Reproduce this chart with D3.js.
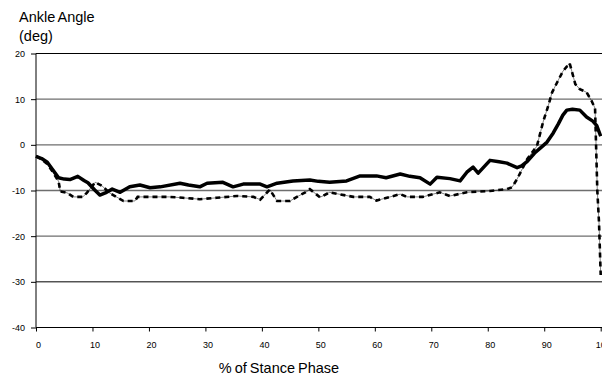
<!DOCTYPE html>
<html><head><meta charset="utf-8">
<script src="https://cdn.jsdelivr.net/npm/d3@7"></script>
<style>body{margin:0;background:#fff}svg{display:block;font-family:Arial,"Liberation Sans",sans-serif}</style>
</head><body><svg id="c" width="602" height="376"></svg>
<script>
const xTicks = [0,10,20,30,40,50,60,70,80,90,100];
const yTicks = [20,10,0,-10,-20,-30,-40];
const solidX = [0,1,2,3,4,5,6,7.4,8.5,9.2,10.4,11.3,12.5,13.5,14.9,16.6,18.4,20.2,22,25.5,27,29,30.3,33.1,34.9,36.7,39.7,40.9,42.7,45.5,48.5,50,52,55,57.4,60.3,62,64.5,66.2,68,69.8,71,73.3,75.1,76.3,77.4,78.3,80.4,82,83.4,85.2,86,87,88.3,89.5,90.5,91.6,92.5,93.3,94,95,96.3,97.5,98.6,99.3,100];
const solidY = [-2.5,-3,-3.8,-5.5,-7.2,-7.5,-7.6,-6.9,-7.8,-8.3,-9.9,-11,-10.4,-9.7,-10.4,-9.2,-8.8,-9.4,-9.2,-8.4,-8.8,-9.2,-8.4,-8.2,-9.2,-8.6,-8.6,-9.2,-8.4,-7.9,-7.7,-8.0,-8.2,-7.9,-6.8,-6.8,-7.2,-6.4,-6.9,-7.2,-8.6,-7.1,-7.4,-7.9,-6.0,-4.9,-6.2,-3.4,-3.7,-4.0,-5.0,-4.6,-3.6,-1.8,-0.5,0.6,2.6,4.6,6.5,7.6,7.8,7.6,6.1,5.2,4.2,1.9];
const dashX = [0,1,2,3,4,4.3,5.5,6.6,8.3,9.0,10.5,11.7,13,15.5,17.5,18,23.7,26,29,32,35.6,38.5,39.7,41.4,42.7,45,46.2,48,48.5,50.3,52,56.2,59.1,60.3,62.7,64.5,65.7,68.5,71.5,73.3,76.3,80.4,83.4,84.3,85.2,86.1,87,88.7,89.8,90.7,91.4,92.3,93.3,94.5,95.5,96.3,97.5,98.4,99.0,99.4,99.7,100];
const dashY = [-2.5,-3.2,-4.2,-6,-8,-10.2,-10.5,-11.4,-11.4,-10.5,-8.2,-9,-10.5,-12.3,-12.3,-11.4,-11.4,-11.6,-11.9,-11.6,-11.2,-11.4,-12,-9.8,-12.3,-12.3,-11.4,-10.2,-9.7,-11.5,-10.4,-11.4,-11.4,-12.2,-11.4,-10.8,-11.4,-11.4,-10.4,-11.2,-10.4,-10.1,-9.7,-9.3,-7.5,-5.3,-3.1,-0.3,5,8.5,11.5,13.7,16.1,17.9,13.3,12.2,11.5,9.6,8,-10,-17,-28.5];

const svg = d3.select("#c");
const x = d3.scaleLinear().domain([0,100]).range([36,600.7]);
const y = d3.scaleLinear().domain([-40,20]).range([327.5,53.5]);

// gridlines
svg.append("g").selectAll("line").data(yTicks.filter(d=>d>-40)).join("line")
  .attr("x1",36).attr("x2",602).attr("y1",d=>y(d)).attr("y2",d=>y(d))
  .attr("stroke",d=>(d===20||d===-30)?"#000":"#6e6e6e")
  .attr("stroke-width",d=>(d===20||d===-30)?1:1.4);

// y axis
const ya = svg.append("g").attr("transform","translate(36,0)")
  .call(d3.axisLeft(y).tickValues(yTicks).tickSize(5).tickPadding(6).tickFormat(d=>String(d)));
ya.select(".domain").attr("d","M0,53.5V327.5").attr("stroke","#000");
ya.selectAll("text").attr("font-size","9px").attr("fill","#000").attr("font-family",null);

// x axis
const xa = svg.append("g").attr("transform","translate(0,327.5)")
  .call(d3.axisBottom(x).tickValues(xTicks).tickSize(4).tickPadding(10).tickFormat(d=>String(d)));
xa.select(".domain").attr("d","M36,0H602").attr("stroke","#000");
xa.selectAll("text").attr("font-size","9px").attr("fill","#000").attr("dx","2").attr("font-family",null);

const line = d3.line().x(d=>x(d[0])).y(d=>y(d[1]));
const dashData = dashX.map((v,i)=>[v,dashY[i]]);
const solidData = solidX.map((v,i)=>[v,solidY[i]]);

svg.append("path").datum(dashData).attr("d",line).attr("fill","none")
  .attr("stroke","#000").attr("stroke-width",0.7).attr("opacity",0.7);
svg.append("path").datum(dashData).attr("d",line).attr("fill","none")
  .attr("stroke","#000").attr("stroke-width",2.6).attr("stroke-dasharray","5,4");
svg.append("path").datum(solidData).attr("d",line).attr("fill","none")
  .attr("stroke","#000").attr("stroke-width",3.5).attr("stroke-linejoin","round");

// titles
svg.append("text").attr("x",19).attr("y",22).attr("font-size","14.5px").attr("word-spacing","-1px").text("Ankle Angle");
svg.append("text").attr("x",19).attr("y",41).attr("font-size","14.5px").text("(deg)");
svg.append("text").attr("x",279).attr("y",373).attr("text-anchor","middle").attr("font-size","14.5px").attr("word-spacing","-1px").text("% of Stance Phase");
</script></body></html>
